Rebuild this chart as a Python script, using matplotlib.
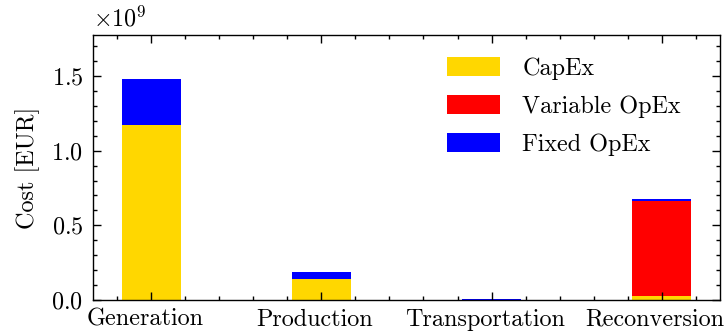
import matplotlib
matplotlib.use("Agg")
import matplotlib.pyplot as plt
from matplotlib.ticker import MultipleLocator
import matplotlib.transforms as mtransforms
import numpy as np

categories = ["Generation", "Production", "Transportation", "Reconversion"]
capex = [1.17e9, 0.14e9, 0.0, 0.03e9]
var_opex = [0.0, 0.0, 0.0, 0.635e9]
fixed_opex = [0.31e9, 0.045e9, 0.008e9, 0.012e9]
series_labels = ["CapEx", "Variable OpEx", "Fixed OpEx"]
series_colors = ["#FFD700", "#FF0000", "#0000FF"]

plt.rcParams.update({
    "font.family": ["cmr10", "DejaVu Serif"],
    "mathtext.fontset": "cm",
    "axes.formatter.use_mathtext": True,
    "font.size": 8.7,
    "axes.linewidth": 0.5,
    "xtick.direction": "in",
    "ytick.direction": "in",
    "xtick.top": True,
    "ytick.right": True,
    "xtick.major.size": 3,
    "xtick.minor.size": 1.5,
    "ytick.major.size": 3,
    "ytick.minor.size": 1.5,
    "xtick.major.width": 0.5,
    "ytick.major.width": 0.5,
    "xtick.minor.width": 0.5,
    "ytick.minor.width": 0.5,
    "xtick.minor.visible": True,
    "ytick.minor.visible": True,
})

fig = plt.figure(figsize=(3.625, 1.68), dpi=200)
ax = fig.add_axes([0.1283, 0.107, 0.993 - 0.1283, 0.896 - 0.107])

x = np.arange(len(categories))
w = 0.35
capex_a = np.array(capex)
var_a = np.array(var_opex)
fix_a = np.array(fixed_opex)
ax.bar(x, capex_a, w, color=series_colors[0], label=series_labels[0])
ax.bar(x, var_a, w, bottom=capex_a, color=series_colors[1], label=series_labels[1])
ax.bar(x, fix_a, w, bottom=capex_a + var_a, color=series_colors[2], label=series_labels[2])

ax.set_xticks(x)
ax.set_xticklabels(categories)
ax.tick_params(axis="x", which="major", pad=3.0)
offset = mtransforms.ScaledTranslation(-6.5 / 200, 0, fig.dpi_scale_trans)
for lbl in ax.get_xticklabels():
    lbl.set_transform(lbl.get_transform() + offset)
ax.xaxis.set_minor_locator(MultipleLocator(0.2))
ax.yaxis.set_major_locator(MultipleLocator(0.5e9))
ax.yaxis.set_minor_locator(MultipleLocator(0.1e9))
ax.set_ylim(0, 1.775e9)
ax.set_ylabel("Cost [EUR]", labelpad=4)

ax.legend(loc="upper left", bbox_to_anchor=(0.564, 0.915), frameon=False,
          borderaxespad=0, borderpad=0, handlelength=2.22, handleheight=0.78,
          handletextpad=0.92, labelspacing=0.64)

fig.savefig("out.png", dpi=200)
